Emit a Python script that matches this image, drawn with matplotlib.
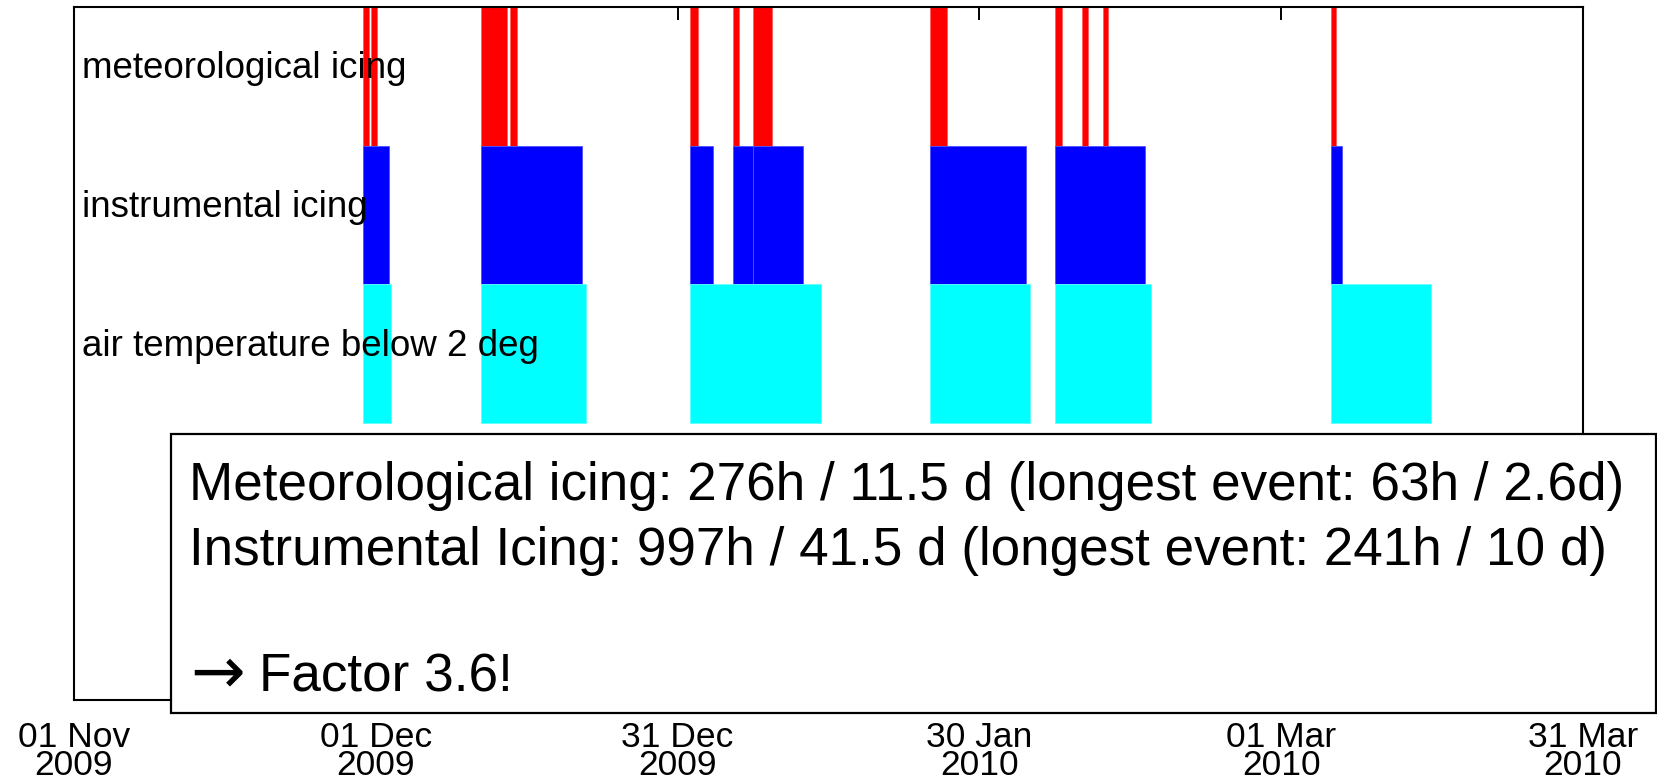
import numpy as np
import pandas as pd
import matplotlib
matplotlib.use('Agg')
import matplotlib.pyplot as plt
import matplotlib.dates as mdates
from matplotlib.patches import Rectangle

plt.rcParams['font.family'] = ['Liberation Sans', 'DejaVu Sans']

# event start times and durations (hours)
met_start = ['2009-11-29 17:00', '2009-11-30 12:00', '2009-12-11 10:00', '2009-12-14 07:00',
             '2010-01-01 05:00', '2010-01-05 12:00', '2010-01-07 12:00', '2010-01-25 02:00',
             '2010-02-06 12:00', '2010-02-09 05:00', '2010-02-11 07:00', '2010-03-05 22:00']
met_hours = [14, 14, 63, 17, 19, 14, 46, 41, 17, 14, 12, 12]

ins_start = ['2009-11-29 17:00', '2009-12-11 10:00', '2010-01-01 05:00', '2010-01-05 12:00',
             '2010-01-07 12:00', '2010-01-25 02:00', '2010-02-06 12:00', '2010-03-05 22:00']
ins_hours = [62, 241, 55, 48, 118, 230, 216, 26]

tmp_start = ['2009-11-29 17:00', '2009-12-11 10:00', '2010-01-01 05:00',
             '2010-01-25 02:00', '2010-02-06 12:00', '2010-03-05 22:00']
tmp_hours = [67, 252, 312, 238, 230, 240]

row_names = ['meteorological icing', 'instrumental icing', 'air temperature below 2 deg']
row_colors = ['#ff0000', '#0000ff', '#00ffff']
row_edges = ['#ff6060', '#5050ff', '#60ffff']

summary = ['Meteorological icing: 276h / 11.5 d (longest event: 63h / 2.6d)',
           'Instrumental Icing: 997h / 41.5 d (longest event: 241h / 10 d)']
factor_text = 'Factor 3.6!'

W, H = 1658, 782
fig = plt.figure(figsize=(W / 100, H / 100), dpi=100)
ax = fig.add_axes([74 / W, 1 - 700 / H, (1583 - 74) / W, (700 - 7) / H])

series = [(met_start, met_hours), (ins_start, ins_hours), (tmp_start, tmp_hours)]
for k, (starts, hours) in enumerate(series):
    x0 = mdates.date2num(pd.to_datetime(starts))
    w = np.array(hours) / 24.0
    ax.broken_barh(list(zip(x0, w)), (4 - k, 1), facecolors=row_colors[k],
                   edgecolors=row_edges[k], linewidth=0.6, zorder=2)
    ax.text(0.0053, 4.485 - k, row_names[k], transform=ax.get_yaxis_transform(),
            fontsize=26.5, va='baseline', ha='left', zorder=3)

t0 = mdates.date2num(pd.Timestamp('2009-11-01'))
ax.set_xlim(t0, t0 + 150)
ax.set_ylim(0, 5)
ax.set_xticks(t0 + np.arange(0, 151, 30))
ax.xaxis.set_major_formatter(mdates.DateFormatter('%d %b\n%Y'))
ax.tick_params(axis='x', direction='in', top=True, length=9.5, width=1.4,
               labelsize=25.5, pad=15)
for lab in ax.get_xticklabels():
    lab.set_linespacing(0.83)
ax.set_yticks([])
for s in ax.spines.values():
    s.set_linewidth(1.5)

# summary box
fig.add_artist(Rectangle((171 / W, 1 - 713 / H), (1656 - 171) / W, (713 - 434) / H,
                         transform=fig.transFigure, facecolor='white',
                         edgecolor='black', linewidth=1.6, zorder=5))
for txt, yb in zip(summary, [500, 565]):
    fig.text(189 / W, 1 - yb / H, txt, fontsize=38.2, va='baseline', ha='left', zorder=6)
fig.text(190 / W, 1 - 674 / H, '\u2192', fontsize=47, family='DejaVu Sans',
         va='center', ha='left', zorder=6)
fig.text(259 / W, 1 - 691 / H, factor_text, fontsize=38.2, va='baseline', ha='left', zorder=6)

fig.savefig('out.png', dpi=100)
